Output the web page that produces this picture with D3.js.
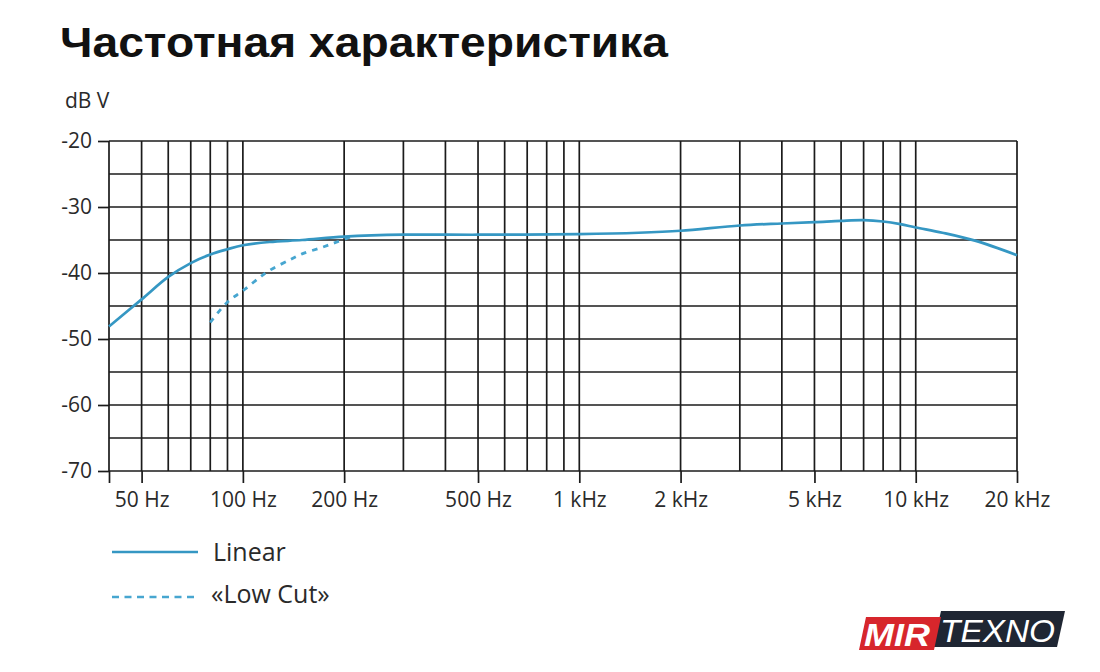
<!DOCTYPE html>
<html><head><meta charset="utf-8">
<script src="https://cdn.jsdelivr.net/npm/d3@7"></script>
<style>
html,body{margin:0;padding:0;background:#fff;}
svg{display:block;}
</style></head>
<body>
<svg id="chart" width="1100" height="672"></svg>
<script>
// ---- data ----
const titleText = "Частотная характеристика";
const yUnit = "dB V";
const gridFreqs = [40,50,60,70,80,90,100,200,300,400,500,600,700,800,900,1000,2000,3000,4000,5000,6000,7000,8000,9000,10000,20000];
const tickFreqs = [50,100,200,500,1000,2000,5000,10000,20000];
const tickLabels = ["50 Hz","100 Hz","200 Hz","500 Hz","1 kHz","2 kHz","5 kHz","10 kHz","20 kHz"];
const yGrid = [-20,-25,-30,-35,-40,-45,-50,-55,-60,-65,-70];
const yTicks = [-20,-30,-40,-50,-60,-70];
const yTickLabels = ["-20","-30","-40","-50","-60","-70"];
const linearFreq = [40,50,60,70,80,90,100,120,150,200,300,500,1000,1500,2000,3000,4000,5000,6000,7000,8000,9000,10000,12000,15000,20000];
const linearDb   = [-48.1,-44.0,-40.6,-38.5,-37.2,-36.4,-35.8,-35.3,-35.0,-34.5,-34.2,-34.2,-34.1,-33.9,-33.6,-32.8,-32.5,-32.3,-32.1,-32.0,-32.2,-32.6,-33.1,-33.9,-35.1,-37.3];
const lowCutFreq = [80,90,100,112,120,138,150,170,188,210];
const lowCutDb   = [-47.5,-44.4,-42.7,-40.7,-39.6,-38.0,-37.1,-36.2,-35.4,-34.5];
const legendNames = ["Linear","«Low Cut»"];

// ---- layout ----
const svg = d3.select("#chart");
const L = 109, R = 1017, T = 141, B = 471;
const x = d3.scaleLog().domain([40,20000]).range([L,R]);
const y = d3.scaleLinear().domain([-70,-20]).range([B,T]);
const gridColor = "#1b1b1b";
const blue = "#3597c3";
const blueDash = "#47a6d0";
const textColor = "#2a2a2a";
const axisFont = "'Open Sans', sans-serif";

// title
const title = svg.append("text").attr("x",60).attr("y",57)
  .attr("font-family","'Liberation Sans', Arial, sans-serif").attr("font-weight","bold")
  .attr("font-size",43).attr("fill","#111").text(titleText);
const tw = title.node().getComputedTextLength();
if (Math.abs(tw-608) > 4) title.attr("textLength",608).attr("lengthAdjust","spacingAndGlyphs");

svg.append("text").attr("x",65).attr("y",108).attr("font-family",axisFont)
  .attr("font-size",21).attr("fill",textColor).text(yUnit);

// grid
const g = svg.append("g");
g.selectAll("line.h").data(yGrid).join("line").attr("class","h")
  .attr("x1",L).attr("x2",R).attr("y1",d=>y(d)).attr("y2",d=>y(d))
  .attr("stroke",gridColor).attr("stroke-width",1.7);
g.selectAll("line.v").data(gridFreqs).join("line").attr("class","v")
  .attr("x1",d=>x(d)).attr("x2",d=>x(d)).attr("y1",T).attr("y2",B)
  .attr("stroke",gridColor).attr("stroke-width",1.7);

// x axis
const xAxis = d3.axisBottom(x).tickValues([40].concat(tickFreqs))
  .tickFormat(d=>{const i=tickFreqs.indexOf(d);return i<0?"":tickLabels[i];})
  .tickSize(12).tickPadding(9);
const gx = svg.append("g").attr("transform",`translate(0,${B})`).call(xAxis);
gx.select(".domain").remove();
gx.selectAll(".tick line").attr("stroke",gridColor).attr("stroke-width",1.7);
gx.selectAll(".tick text").attr("font-family",axisFont).attr("font-size",21).attr("fill",textColor);

// y axis
const yAxis = d3.axisLeft(y).tickValues(yTicks)
  .tickFormat(d=>yTickLabels[yTicks.indexOf(d)]).tickSize(11).tickPadding(6);
const gy = svg.append("g").attr("transform",`translate(${L},0)`).call(yAxis);
gy.select(".domain").remove();
gy.selectAll(".tick line").attr("stroke",gridColor).attr("stroke-width",1.7);
gy.selectAll(".tick text").attr("font-family",axisFont).attr("font-size",21).attr("fill",textColor);

// curves
const line = d3.line().x(d=>x(d[0])).y(d=>y(d[1])).curve(d3.curveCatmullRom.alpha(0.5));
const linData = linearFreq.map((f,i)=>[f,linearDb[i]]);
const lcData = lowCutFreq.map((f,i)=>[f,lowCutDb[i]]);
svg.append("path").datum(lcData).attr("d",line).attr("fill","none")
  .attr("stroke",blueDash).attr("stroke-width",2.8).attr("stroke-dasharray","5.5,6");
svg.append("path").datum(linData).attr("d",line).attr("fill","none")
  .attr("stroke",blue).attr("stroke-width",2.7);

// legend
const lg = svg.append("g");
lg.append("line").attr("x1",112).attr("x2",198).attr("y1",552).attr("y2",552)
  .attr("stroke",blue).attr("stroke-width",2.7);
lg.append("line").attr("x1",112).attr("x2",198).attr("y1",597).attr("y2",597)
  .attr("stroke",blueDash).attr("stroke-width",2.7).attr("stroke-dasharray","7,5.5");
lg.append("text").attr("x",213).attr("y",561).attr("font-family",axisFont).attr("font-size",25)
  .attr("fill",textColor).text(legendNames[0]);
lg.append("text").attr("x",211).attr("y",603).attr("font-family",axisFont).attr("font-size",25)
  .attr("fill",textColor).text(legendNames[1]);

// logo
const logo = svg.append("g");
logo.append("polygon").attr("points","941,611 1065,611 1057,647 933,647").attr("fill","#1f2633");
logo.append("polygon").attr("points","866,617 941,617 934,650 859,650").attr("fill","#d7262c");
logo.append("text").attr("x",864).attr("y",646).attr("font-family","'Liberation Sans', Arial, sans-serif")
  .attr("font-weight","bold").attr("font-style","italic").attr("font-size",32).attr("fill","#fff")
  .attr("textLength",66).attr("lengthAdjust","spacingAndGlyphs").text("MIR");
logo.append("text").attr("x",940).attr("y",642).attr("font-family","'Liberation Sans', Arial, sans-serif")
  .attr("font-style","italic").attr("font-size",31).attr("fill","#fff")
  .attr("textLength",115).attr("lengthAdjust","spacingAndGlyphs").text("TEXNO");
</script>
</body></html>
